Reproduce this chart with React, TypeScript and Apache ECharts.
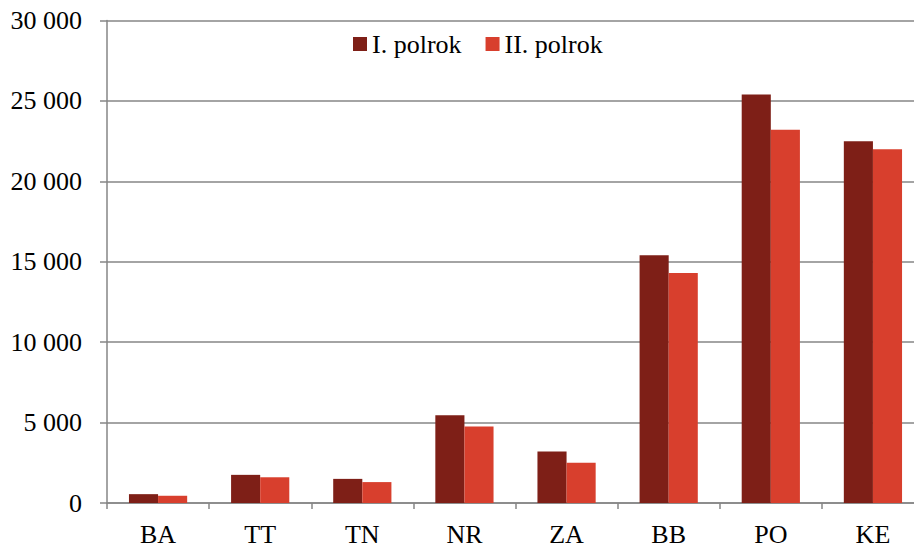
import React, { useEffect, useRef } from "react";
import * as echarts from "echarts";

const categories = ["BA", "TT", "TN", "NR", "ZA", "BB", "PO", "KE"];
const firstHalf = [550, 1750, 1500, 5450, 3200, 15400, 25400, 22500];
const secondHalf = [450, 1600, 1300, 4750, 2500, 14300, 23200, 22000];
const seriesNames = ["I. polrok", "II. polrok"];

const fmt = (v: number) => String(v).replace(/\B(?=(\d{3})+(?!\d))/g, " ");

export default function App() {
  const ref = useRef<HTMLDivElement>(null);
  useEffect(() => {
    document.body.style.margin = "0";
    const chart = echarts.init(ref.current!, undefined, { renderer: "svg" });
    const font = "'Liberation Serif', 'Times New Roman', serif";
    chart.setOption({
      animation: false,
      backgroundColor: "#ffffff",
      textStyle: { fontFamily: font },
      legend: {
        left: 348,
        top: 26,
        itemWidth: 14,
        itemHeight: 14,
        itemGap: 24,
        icon: "rect",
        textStyle: { fontFamily: font, fontSize: 26, color: "#000" },
        data: seriesNames,
      },
      grid: { left: 107, right: 6, top: 20.5, bottom: 43 },
      xAxis: {
        type: "category",
        data: categories,
        axisLine: { show: true, lineStyle: { color: "#868686", width: 1.5 } },
        axisTick: { show: true, length: 6, lineStyle: { color: "#868686", width: 1.5 } },
        axisLabel: { fontFamily: font, fontSize: 26, color: "#000", margin: 18 },
      },
      yAxis: {
        type: "value",
        min: 0,
        max: 30000,
        interval: 5000,
        axisLine: { show: true, lineStyle: { color: "#868686", width: 1.5 } },
        axisTick: { show: true, length: 7, lineStyle: { color: "#868686", width: 1.5 } },
        axisLabel: { fontFamily: font, fontSize: 26, color: "#000", margin: 25, formatter: fmt },
        splitLine: { show: true, lineStyle: { color: "#868686", width: 1.5 } },
      },
      series: [
        {
          name: seriesNames[0],
          type: "bar",
          data: firstHalf,
          barGap: "0%",
          barCategoryGap: "43%",
          itemStyle: { color: "#7E1F17" },
        },
        {
          name: seriesNames[1],
          type: "bar",
          data: secondHalf,
          barGap: "0%",
          barCategoryGap: "43%",
          itemStyle: { color: "#D83F2D" },
        },
      ],
    });
    return () => chart.dispose();
  }, []);
  return (
    <div style={{ width: 914, height: 547, overflow: "hidden" }}>
      <div ref={ref} style={{ width: 930, height: 547 }} />
    </div>
  );
}
